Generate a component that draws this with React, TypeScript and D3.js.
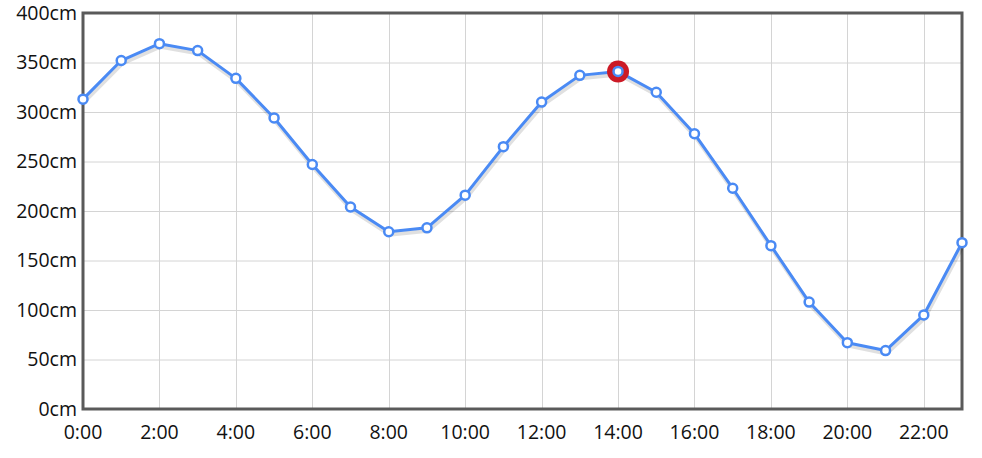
import React, { useRef, useEffect } from 'react';
import * as d3 from 'd3';

const hours = d3.range(0, 24);
const levels = [313, 352, 369, 362, 334, 294, 247, 204, 179, 183, 216, 265, 310, 337, 341, 320, 278, 223, 165, 108, 67, 59, 95, 168];
const yTicks = [0, 50, 100, 150, 200, 250, 300, 350, 400];
const xTicks = [0, 2, 4, 6, 8, 10, 12, 14, 16, 18, 20, 22];
const highlightHour = 14;

const W = 982;
const H = 458;
const margin = { top: 13, right: 20, bottom: 49, left: 83 };

const App = () => {
  const svgRef = useRef<SVGSVGElement>(null);

  useEffect(() => {
    const svg = d3.select(svgRef.current);
    svg.selectAll('*').remove();

    const x = d3.scaleLinear().domain([0, 23]).range([margin.left, W - margin.right]);
    const y = d3.scaleLinear().domain([0, 400]).range([H - margin.bottom, margin.top]);
    const font = '"Segoe UI", "Open Sans", "Noto Sans", sans-serif';

    // grid
    svg.append('g')
      .selectAll('line')
      .data(yTicks)
      .enter()
      .append('line')
      .attr('x1', margin.left)
      .attr('x2', W - margin.right)
      .attr('y1', d => y(d) + 0.5)
      .attr('y2', d => y(d) + 0.5)
      .attr('stroke', '#d4d4d4')
      .attr('stroke-width', 1);

    svg.append('g')
      .selectAll('line')
      .data(xTicks)
      .enter()
      .append('line')
      .attr('x1', d => Math.round(x(d)) + 0.5)
      .attr('x2', d => Math.round(x(d)) + 0.5)
      .attr('y1', margin.top)
      .attr('y2', H - margin.bottom)
      .attr('stroke', '#d4d4d4')
      .attr('stroke-width', 1);

    // frame
    svg.append('rect')
      .attr('x', margin.left)
      .attr('y', margin.top)
      .attr('width', W - margin.right - margin.left)
      .attr('height', H - margin.bottom - margin.top)
      .attr('fill', 'none')
      .attr('stroke', '#5a5a5a')
      .attr('stroke-width', 3);

    // axis labels
    svg.append('g')
      .selectAll('text')
      .data(yTicks)
      .enter()
      .append('text')
      .attr('x', margin.left - 6)
      .attr('y', d => y(d))
      .attr('dy', '0.35em')
      .attr('text-anchor', 'end')
      .attr('font-family', font)
      .attr('font-size', 19.5)
      .attr('fill', '#111')
      .text(d => `${d}cm`);

    svg.append('g')
      .selectAll('text')
      .data(xTicks)
      .enter()
      .append('text')
      .attr('x', d => x(d))
      .attr('y', H - margin.bottom + 30)
      .attr('text-anchor', 'middle')
      .attr('font-family', font)
      .attr('font-size', 19.5)
      .attr('fill', '#111')
      .text(d => `${d}:00`);

    const line = d3.line<number>()
      .x((d, i) => x(hours[i]))
      .y(d => y(d));

    // shadow
    svg.append('path')
      .datum(levels)
      .attr('d', line)
      .attr('fill', 'none')
      .attr('stroke', 'rgba(0,0,0,0.12)')
      .attr('stroke-width', 4)
      .attr('transform', 'translate(1,3)');

    svg.append('path')
      .datum(levels)
      .attr('d', line)
      .attr('fill', 'none')
      .attr('stroke', '#4a8af4')
      .attr('stroke-width', 3)
      .attr('stroke-linejoin', 'round');

    svg.append('circle')
      .attr('cx', x(highlightHour))
      .attr('cy', y(levels[highlightHour]))
      .attr('r', 11)
      .attr('fill', '#cc1a26');

    svg.append('g')
      .selectAll('circle')
      .data(levels)
      .enter()
      .append('circle')
      .attr('cx', (d, i) => x(hours[i]))
      .attr('cy', d => y(d))
      .attr('r', 4.5)
      .attr('fill', 'white')
      .attr('stroke', '#4a8af4')
      .attr('stroke-width', 2.5);
  }, []);

  return <svg ref={svgRef} width={W} height={H} style={{ position: 'absolute', left: 0, top: 0 }}></svg>;
};

export default App;
